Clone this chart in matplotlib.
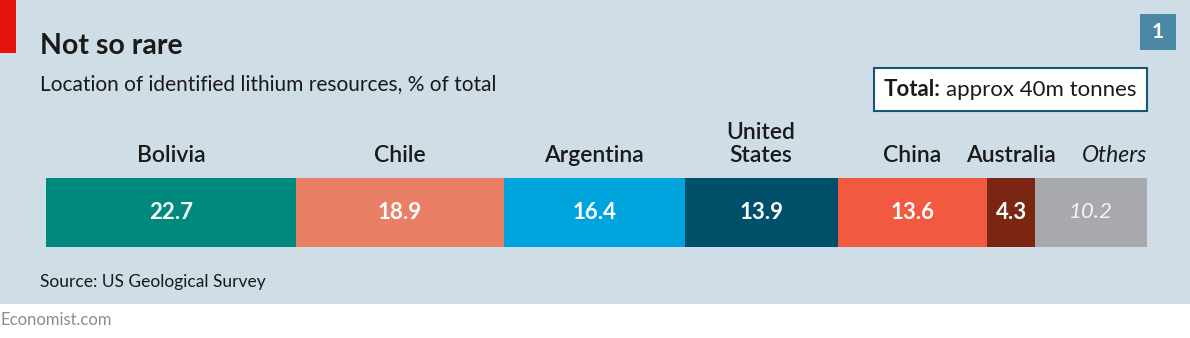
import matplotlib
matplotlib.use("Agg")
import matplotlib.pyplot as plt
from matplotlib.patches import Rectangle
import numpy as np

countries = ["Bolivia", "Chile", "Argentina", "United\nStates", "China", "Australia", "Others"]
shares = [22.7, 18.9, 16.4, 13.9, 13.6, 4.3, 10.2]
value_labels = ["22.7", "18.9", "16.4", "13.9", "13.6", "4.3", "10.2"]
colors = ["#008a7e", "#e97f65", "#00a4dc", "#004f6b", "#f15a40", "#7a2612", "#a8a9ad"]

plt.rcParams["font.family"] = ["Lato", "DejaVu Sans"]

W, H = 1190, 338
fig = plt.figure(figsize=(W / 100, H / 100), dpi=100)
fig.patch.set_facecolor("white")


def fx(px):
    return px / W


def fy(py):
    return 1 - py / H


# background panel and decorations
fig.patches.append(Rectangle((0, fy(304)), 1, 1 - fy(304), transform=fig.transFigure,
                             facecolor="#cedde6", edgecolor="none", zorder=-2))
fig.patches.append(Rectangle((0, fy(53)), fx(16), 1 - fy(53), transform=fig.transFigure,
                             facecolor="#e3120b", edgecolor="none", zorder=1))
fig.patches.append(Rectangle((fx(1140), fy(50)), fx(36), fy(14) - fy(50), transform=fig.transFigure,
                             facecolor="#4a88a5", edgecolor="none", zorder=1))
fig.text(fx(1158), fy(32), "1", color="white", fontsize=15, fontweight="bold",
         ha="center", va="center")

fig.text(fx(40), fy(54), "Not so rare", fontsize=20.5, fontweight="bold", color="#1a1a1a",
         ha="left", va="baseline")
fig.text(fx(40), fy(90), "Location of identified lithium resources, % of total", fontsize=15,
         color="#1a1a1a", ha="left", va="baseline")

# total box
fig.patches.append(Rectangle((fx(874), fy(111)), fx(1147) - fx(874), fy(68) - fy(111),
                             transform=fig.transFigure, facecolor="white",
                             edgecolor="#165775", linewidth=1.5, zorder=1))
t1 = fig.text(fx(884), fy(96), "Total:", fontsize=16, fontweight="bold", color="#1a1a1a",
              ha="left", va="baseline")
renderer = fig.canvas.get_renderer()
x_end = t1.get_window_extent(renderer).x1
fig.text(x_end / W + fx(5), fy(96), "approx 40m tonnes", fontsize=16, color="#1a1a1a",
         ha="left", va="baseline")

fig.text(fx(40), fy(287), "Source: US Geological Survey", fontsize=12.5, color="#1a1a1a",
         ha="left", va="baseline")
fig.text(fx(1), fy(325), "Economist.com", fontsize=12, color="#8c8c8c",
         ha="left", va="baseline")

# stacked bar
ax = fig.add_axes([fx(46), fy(247), fx(1147) - fx(46), fy(178) - fy(247)])
ax.set_zorder(2)
ax.set_facecolor("none")
left = np.concatenate([[0], np.cumsum(shares)[:-1]])
ax.barh([0], shares, left=left, height=1, color=colors, edgecolor="none")
ax.set_xlim(0, sum(shares))
ax.set_ylim(-0.5, 0.5)
ax.axis("off")

label_y = 0.5 + 16 / 69
for l, w, lab, val in zip(left, shares, countries, value_labels):
    c = l + w / 2
    if lab == "Others":
        ax.text(c, 0, val, color="#f4f4f4", fontsize=16, style="italic",
                ha="center", va="center")
        ax.text(l + w, label_y, lab, fontsize=16.5, style="italic", color="#1a1a1a",
                ha="right", va="baseline", clip_on=False)
    else:
        ax.text(c, 0, val, color="white", fontsize=16, fontweight="bold",
                ha="center", va="center")
        ax.text(c, label_y, lab, fontsize=16.5, fontweight="semibold", color="#1a1a1a",
                ha="center", va="baseline", linespacing=1.1, clip_on=False)

fig.savefig("out.png", dpi=100)
